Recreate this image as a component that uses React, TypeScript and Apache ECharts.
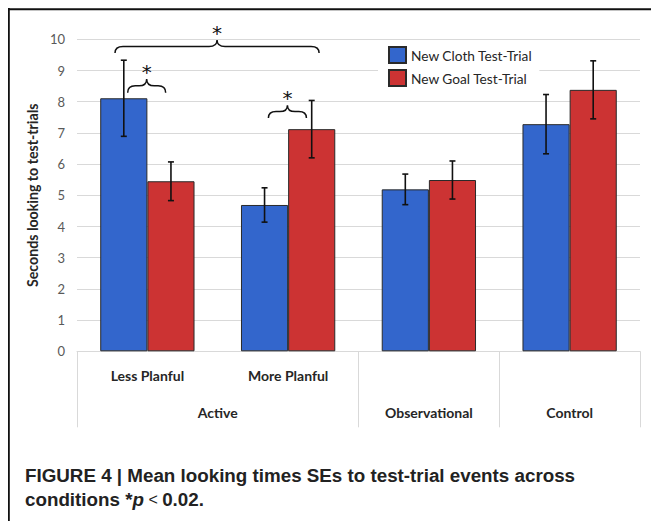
import React, { useEffect, useRef } from "react";
import * as echarts from "echarts";

const conditions = ["Less Planful", "More Planful", "Observational", "Control"];
const subgroupLabels = ["Less Planful", "More Planful", "", ""];
const groupNames = ["Active", "Observational", "Control"];
const groupCenters = [1, 2.5, 3.5];
const groupBounds = [0, 2, 3, 4];

const seriesNames = ["New Cloth Test-Trial", "New Goal Test-Trial"];
const clothMeans = [8.11, 4.69, 5.19, 7.28];
const clothSE = [1.22, 0.55, 0.49, 0.95];
const goalMeans = [5.45, 7.12, 5.49, 8.38];
const goalSE = [0.62, 0.92, 0.61, 0.93];

const yTicks = [0, 1, 2, 3, 4, 5, 6, 7, 8, 9, 10];

// significance braces: start/end in category units, end height, tip height
const braceStart = [0.27, 0.36, 1.36];
const braceEnd = [1.72, 0.63, 1.63];
const braceLow = [9.56, 8.29, 7.48];
const braceTip = [9.98, 8.73, 7.89];
const braceMark = ["*", "*", "*"];

const BLUE = "#3366CC";
const RED = "#CC3333";
const FONT = "Lato, 'Open Sans', sans-serif";
const CAPTION_FONT = "'Liberation Sans Narrow', 'Liberation Sans', Arial, sans-serif";

export default function App() {
  const ref = useRef<HTMLDivElement>(null);
  useEffect(() => {
    if (!ref.current) return;
    const chart = echarts.init(ref.current, null, { renderer: "svg" });
    const catGap = 0.33;

    const errorSeries = (means: number[], se: number[], side: number) => ({
      type: "custom",
      xAxisIndex: 0,
      yAxisIndex: 0,
      z: 5,
      silent: true,
      data: means.map((m, i) => [i, m - se[i], m + se[i]]),
      encode: { x: 0, y: [1, 2] },
      renderItem: (params: any, api: any) => {
        const idx = api.value(0);
        const bw = api.size([1, 0])[0];
        const cx = api.coord([idx, 0])[0] + side * bw * (1 - catGap) / 4;
        const lo = api.coord([idx, api.value(1)])[1];
        const hi = api.coord([idx, api.value(2)])[1];
        const cap = 3;
        const st = { stroke: "#111", lineWidth: 1.6 };
        return {
          type: "group",
          children: [
            { type: "line", shape: { x1: cx, y1: lo, x2: cx, y2: hi }, style: st },
            { type: "line", shape: { x1: cx - cap, y1: lo, x2: cx + cap, y2: lo }, style: st },
            { type: "line", shape: { x1: cx - cap, y1: hi, x2: cx + cap, y2: hi }, style: st },
          ],
        };
      },
    });

    const option: any = {
      animation: false,
      textStyle: { fontFamily: FONT },
      grid: { left: 69, top: 31.3, width: 563, height: 312, containLabel: false },
      legend: {
        orient: "vertical",
        left: 370,
        top: 33,
        padding: [5, 7, 8, 10],
        icon: "rect",
        itemWidth: 17,
        itemHeight: 16,
        itemGap: 5,
        backgroundColor: "#fff",
        textStyle: { fontFamily: FONT, fontSize: 13.7, color: "#262626" },
        data: seriesNames,
      },
      xAxis: [
        {
          type: "category",
          data: conditions,
          axisLine: { show: true, lineStyle: { color: "#d9d9d9", width: 1 } },
          axisTick: { show: false },
          axisLabel: {
            margin: 17,
            fontFamily: FONT,
            fontWeight: "bold",
            fontSize: 14,
            color: "#262626",
            formatter: (_v: string, i: number) => subgroupLabels[i],
          },
          splitLine: { show: false },
        },
        {
          type: "value",
          position: "bottom",
          min: 0,
          max: 4,
          axisLine: { show: false },
          axisTick: {
            show: true,
            customValues: groupBounds,
            length: 76,
            lineStyle: { color: "#d9d9d9", width: 1 },
          },
          axisLabel: {
            customValues: groupCenters,
            margin: 54,
            fontFamily: FONT,
            fontWeight: "bold",
            fontSize: 14,
            color: "#262626",
            formatter: (v: number) => {
              const k = groupCenters.indexOf(v);
              return k >= 0 ? groupNames[k] : "";
            },
          },
          splitLine: { show: false },
        },
      ],
      yAxis: {
        type: "value",
        min: 0,
        max: 10,
        interval: 1,
        name: "Seconds looking to test-trials",
        nameLocation: "middle",
        nameGap: 29,
        nameTextStyle: { fontFamily: FONT, fontWeight: "bold", fontSize: 14.2, color: "#262626" },
        axisLine: { show: false },
        axisTick: { show: false },
        axisLabel: {
          margin: 12,
          fontFamily: FONT,
          fontSize: 13,
          color: "#595959",
          formatter: (v: number) => (yTicks.indexOf(v) >= 0 ? String(v) : ""),
        },
        splitLine: { lineStyle: { color: "#d9d9d9", width: 1 } },
      },
      series: [
        {
          name: seriesNames[0],
          type: "bar",
          data: clothMeans,
          barGap: "0%",
          barCategoryGap: "33%",
          itemStyle: { color: BLUE, borderColor: "#2a2a2a", borderWidth: 1 },
        },
        {
          name: seriesNames[1],
          type: "bar",
          data: goalMeans,
          barGap: "0%",
          barCategoryGap: "33%",
          itemStyle: { color: RED, borderColor: "#2a2a2a", borderWidth: 1 },
        },
        errorSeries(clothMeans, clothSE, -1),
        errorSeries(goalMeans, goalSE, 1),
        {
          type: "custom",
          xAxisIndex: 0,
          yAxisIndex: 0,
          z: 6,
          silent: true,
          clip: false,
          data: braceLow.map((v) => [0, v]),
          encode: { x: 0, y: 1 },
          renderItem: (params: any, api: any) => {
            const k = params.dataIndex;
            const bw = api.size([1, 0])[0];
            const left = api.coord([0, 0])[0] - bw / 2;
            const x0 = left + braceStart[k] * bw;
            const x1 = left + braceEnd[k] * bw;
            const xm = (x0 + x1) / 2;
            const yEnd = api.coord([0, braceLow[k]])[1];
            const yTip = api.coord([0, braceTip[k]])[1];
            const yH = (yEnd + yTip) / 2;
            const r = Math.min(8, (x1 - x0) / 5);
            const d =
              `M${x0},${yEnd} Q${x0},${yH} ${x0 + r},${yH} L${xm - r},${yH} Q${xm},${yH} ${xm},${yTip} ` +
              `Q${xm},${yH} ${xm + r},${yH} L${x1 - r},${yH} Q${x1},${yH} ${x1},${yEnd}`;
            return {
              type: "group",
              children: [
                {
                  type: "path",
                  shape: { pathData: d },
                  style: { stroke: "#111", lineWidth: 1.5, fill: "none" },
                },
                {
                  type: "text",
                  style: {
                    text: braceMark[k],
                    x: xm,
                    y: yTip + 3,
                    align: "center",
                    verticalAlign: "bottom",
                    fontFamily: "'DejaVu Sans', sans-serif",
                    fontSize: 20,
                    fill: "#111",
                  },
                },
              ],
            };
          },
        },
      ],
      graphic: [
        { type: "line", shape: { x1: 0.8, y1: 0, x2: 0.8, y2: 513 }, style: { stroke: "#111", lineWidth: 2 } },
        { type: "line", shape: { x1: 0, y1: 1.2, x2: 651, y2: 1.2 }, style: { stroke: "#111", lineWidth: 2 } },
        {
          type: "text",
          left: 17,
          top: 458,
          style: {
            text: "FIGURE 4 | Mean looking times SEs to test-trial events across",
            fontFamily: CAPTION_FONT,
            fontWeight: "bold",
            fontSize: 18.8,
            fill: "#222",
          },
        },
        {
          type: "text",
          left: 17,
          top: 482,
          style: {
            text: "{n|conditions *}{i|p}{s| < }{n|0.02.}",
            rich: {
              n: { fontFamily: CAPTION_FONT, fontWeight: "bold", fontSize: 18.8, fill: "#222" },
              i: { fontFamily: CAPTION_FONT, fontWeight: "bold", fontStyle: "italic", fontSize: 18.8, fill: "#222" },
              s: { fontFamily: CAPTION_FONT, fontWeight: "normal", fontSize: 16, fill: "#222" },
            },
          },
        },
      ],
    };
    chart.setOption(option);
    return () => chart.dispose();
  }, []);
  return <div ref={ref} style={{ width: 651, height: 513 }} />;
}
